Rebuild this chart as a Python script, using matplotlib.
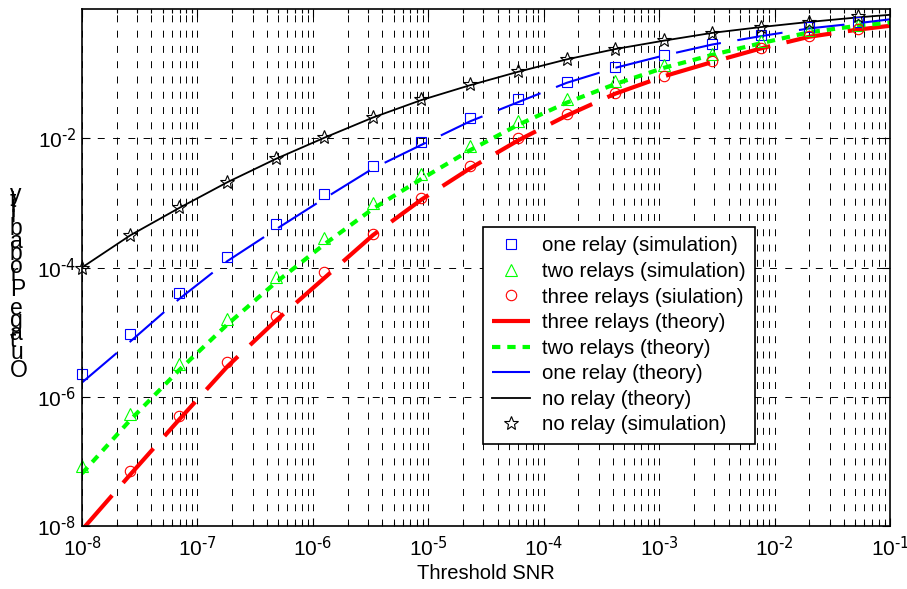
import numpy as np
import matplotlib
matplotlib.use('Agg')
import matplotlib.pyplot as plt
from matplotlib.ticker import LogLocator, FixedLocator, NullLocator, FuncFormatter
from matplotlib.font_manager import FontProperties

plt.rcParams['font.family'] = 'Liberation Sans'
plt.rcParams['mathtext.default'] = 'regular'
plt.rcParams['axes.unicode_minus'] = False
plt.rcParams['lines.scale_dashes'] = False

# threshold SNR grid of the simulated points
snr = [1.0e-8, 2.63e-8, 6.92e-8, 1.82e-7, 4.79e-7, 1.26e-6, 3.31e-6, 8.71e-6,
       2.29e-5, 6.03e-5, 1.58e-4, 4.17e-4, 1.10e-3, 2.88e-3, 7.59e-3, 2.00e-2,
       5.25e-2]
# theory curves run on to the end of the axis
snr_theory = snr + [1.0e-1]

# simulated outage probability (first three-relay point lies below the axis floor)
no_relay_sim = [1.0e-4, 3.2e-4, 8.5e-4, 2.1e-3, 4.9e-3, 1.05e-2, 2.1e-2, 4.0e-2,
                6.8e-2, 0.110, 0.170, 0.243, 0.327, 0.429, 0.525, 0.627, 0.776]
one_relay_sim = [2.24e-6, 9.5e-6, 4.1e-5, 1.45e-4, 4.7e-4, 1.38e-3, 3.7e-3, 8.9e-3,
                 2.09e-2, 4.07e-2, 7.4e-2, 0.126, 0.195, 0.288, 0.389, 0.525, 0.631]
two_relay_sim = [8.5e-8, 5.5e-7, 3.16e-6, 1.58e-5, 7.1e-5, 2.82e-4, 9.8e-4, 2.75e-3,
                 7.6e-3, 1.86e-2, 3.98e-2, 7.6e-2, 0.135, 0.204, 0.316, 0.468, 0.562]
three_relay_sim = [np.nan, 7.2e-8, 5.1e-7, 3.4e-6, 1.78e-5, 8.5e-5, 3.3e-4, 1.17e-3,
                   3.7e-3, 1.0e-2, 2.34e-2, 5.1e-2, 9.3e-2, 0.155, 0.251, 0.380, 0.490]

# theoretical outage probability
no_relay_th = [1.0e-4, 3.16e-4, 8.3e-4, 2.09e-3, 4.8e-3, 1.02e-2, 2.09e-2, 3.9e-2,
               6.6e-2, 0.107, 0.166, 0.240, 0.324, 0.427, 0.525, 0.631, 0.741, 0.813]
one_relay_th = [1.66e-6, 7.2e-6, 3.24e-5, 1.26e-4, 3.9e-4, 1.17e-3, 3.4e-3, 7.9e-3,
                1.82e-2, 3.63e-2, 7.2e-2, 0.123, 0.191, 0.282, 0.380, 0.501, 0.603, 0.692]
two_relay_th = [6.5e-8, 4.4e-7, 2.57e-6, 1.32e-5, 5.9e-5, 2.29e-4, 8.1e-4, 2.34e-3,
                6.5e-3, 1.62e-2, 3.55e-2, 6.9e-2, 0.123, 0.195, 0.295, 0.437, 0.550, 0.617]
three_relay_th = [8.7e-9, 6.3e-8, 4.4e-7, 2.95e-6, 1.51e-5, 6.9e-5, 3.16e-4, 1.12e-3,
                  3.4e-3, 9.3e-3, 2.24e-2, 4.9e-2, 9.1e-2, 0.151, 0.245, 0.372, 0.479, 0.550]

y_ticks = [1e-8, 1e-6, 1e-4, 1e-2]
ylabel = 'Outage Probability'

fig = plt.figure(figsize=(9.07, 5.89), dpi=100)
ax = fig.add_axes([82 / 907, 63 / 589, 808 / 907, 517 / 589])
ax.set_xscale('log')
ax.set_yscale('log')

long_dash = (0, (33, 12))
h_three_th, = ax.plot(snr_theory, three_relay_th, color='#ff0000', lw=3.0, ls=long_dash)
h_two_th, = ax.plot(snr_theory, two_relay_th, color='#00ff00', lw=3.0, ls=(0, (6, 5)))
h_one_th, = ax.plot(snr_theory, one_relay_th, color='#0000ff', lw=1.5, ls=long_dash)
h_no_th, = ax.plot(snr_theory, no_relay_th, color='k', lw=1.3)

mk = dict(ls='none', mfc='none', mew=0.8, clip_on=False)
h_one_sim, = ax.plot(snr, one_relay_sim, marker='s', mec='#0000ff', ms=7.5, **mk)
h_two_sim, = ax.plot(snr, two_relay_sim, marker='^', mec='#00ff00', ms=8, **mk)
h_three_sim, = ax.plot(snr, three_relay_sim, marker='o', mec='#ff0000', ms=7.5, **mk)
h_no_sim, = ax.plot(snr, no_relay_sim, marker='*', mec='k', ms=10, **mk)

ax.set_xlim(1e-8, 1e-1)
ax.set_ylim(1e-8, 1)


def pow10(v, pos):
    e = int(round(np.log10(v)))
    sign = '-' if e < 0 else ''
    return r'$10^{\text{%s%d}}$' % (sign, abs(e))


ax.xaxis.set_major_locator(LogLocator(base=10, numticks=20))
ax.xaxis.set_minor_locator(LogLocator(base=10, subs=np.arange(2, 10), numticks=20))
ax.yaxis.set_major_locator(FixedLocator(y_ticks))
ax.yaxis.set_minor_locator(NullLocator())
ax.xaxis.set_major_formatter(FuncFormatter(pow10))
ax.yaxis.set_major_formatter(FuncFormatter(pow10))

ax.tick_params(which='both', direction='in', top=True, right=True, width=0.8)
ax.tick_params(which='major', length=6, labelsize=15)
ax.tick_params(which='minor', length=3)
ax.tick_params(axis='x', pad=7)
ax.tick_params(axis='y', pad=4)
for s in ax.spines.values():
    s.set_linewidth(1.2)

grid_style = dict(color='k', lw=0.7, ls=(0, (5, 6)))
ax.grid(True, which='both', axis='x', **grid_style)
ax.grid(True, which='major', axis='y', **grid_style)

ax.set_xlabel('Threshold SNR', fontsize=14.5, labelpad=3)

handles = [h_one_sim, h_two_sim, h_three_sim, h_three_th, h_two_th, h_one_th, h_no_th, h_no_sim]
labels = ['one relay (simulation)', 'two relays (simulation)', 'three relays (siulation)',
          'three relays (theory)', 'two relays (theory)', 'one relay (theory)',
          'no relay (theory)', 'no relay (simulation)']
leg = ax.legend(handles, labels, loc='upper left', bbox_to_anchor=(0.496, 0.578),
                borderaxespad=0, fontsize=14.8, handlelength=1.85, handletextpad=0.6,
                labelspacing=0.32, borderpad=0.45, numpoints=1, fancybox=False,
                framealpha=1, edgecolor='k')
leg.get_frame().set_linewidth(1.2)

# y label: upright glyphs stacked bottom to top
renderer = fig.canvas.get_renderer()
fp = FontProperties(family='Liberation Sans', size=16.5)
adv = [renderer.get_text_width_height_descent(ylabel[:i], fp, ismath=False)[0] if i else 0.0
       for i in range(len(ylabel))]
y_base, y_top = 377.0, 201.0
scale = (y_base - y_top) / adv[-1]
for ch, a in zip(ylabel, adv):
    if ch == ' ':
        continue
    py = y_base - a * scale
    fig.text(10 / 907, 1 - py / 589, ch, fontproperties=fp, ha='left', va='baseline')

fig.savefig('out.png', dpi=100)
